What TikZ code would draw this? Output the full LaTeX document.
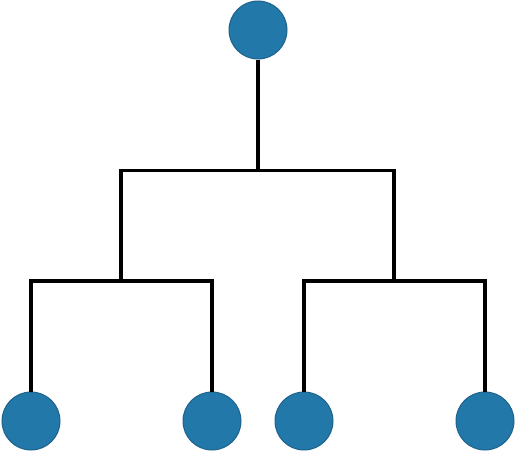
\documentclass[tikz,border=0pt]{standalone}
\definecolor{leaf}{RGB}{34,120,168}
\definecolor{leafborder}{RGB}{30,98,140}
\begin{document}
\begin{tikzpicture}[x=1pt,y=-1pt,
  dot/.style={circle,fill=leaf,draw=leafborder,line width=1pt,minimum size=58pt,inner sep=0pt},
  wire/.style={line width=3.4pt,line cap=butt}]
\useasboundingbox (0,0) rectangle (516,452);
\node[dot] (r) at (258,30) {};
\node[dot] (a) at (31,421) {};
\node[dot] (b) at (212,421) {};
\node[dot] (c) at (304,421) {};
\node[dot] (d) at (485,421) {};
\coordinate (j) at (258,170.5);
\coordinate (jl) at (121,170.5);
\coordinate (jr) at (394,170.5);
\coordinate (kl) at (121,281);
\coordinate (kr) at (394,281);
\coordinate (al) at (31,281);
\coordinate (bl) at (212,281);
\coordinate (cl) at (304,281);
\coordinate (dl) at (485,281);
\draw[wire] (r.south) -- (j);
\draw[wire] (kl) -- (jl) -- (jr) -- (kr);
\draw[wire] (a.north) -- (al) -- (bl) -- (b.north);
\draw[wire] (c.north) -- (cl) -- (dl) -- (d.north);
\end{tikzpicture}
\end{document}
